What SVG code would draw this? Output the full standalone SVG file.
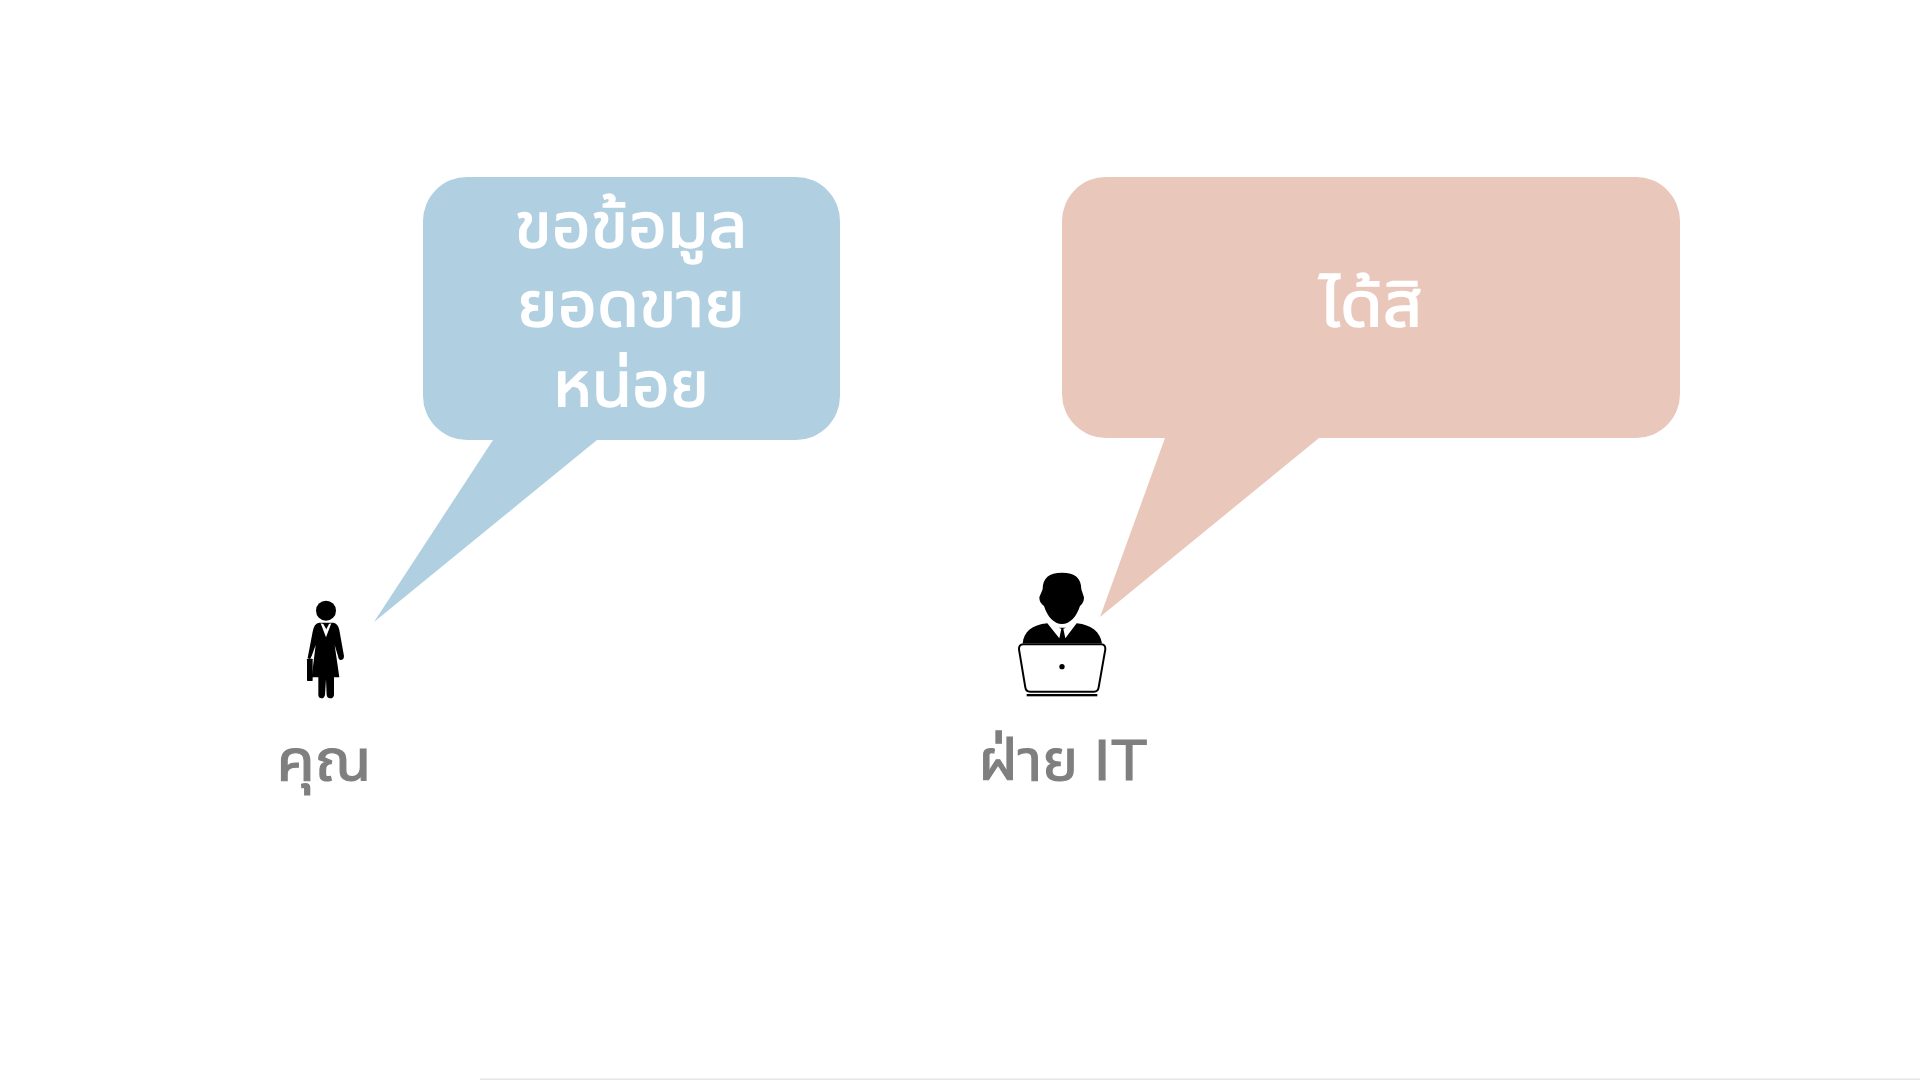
<svg xmlns="http://www.w3.org/2000/svg" width="1920" height="1080" viewBox="0 0 1920 1080">
<style>
text{font-family:"Noto Sans Thai","Liberation Sans","Noto Sans",sans-serif;text-anchor:middle}
.w{fill:#fff;stroke:#fff;stroke-width:1.4px;font-size:62px}
.g{fill:#7f7f7f;stroke:#7f7f7f;stroke-width:1.2px;font-size:58px}
.l{font-family:"Liberation Sans",sans-serif}
.k{fill:#000}
</style>
<rect width="1920" height="1080" fill="#fff"/>
<rect x="480" y="1078.5" width="1440" height="1.5" fill="#e6e6e6"/>
<g id="bubble-request">
<path fill="#b0d0e1" d="M467 177H796A44 44 0 0 1 840 221V396A44 44 0 0 1 796 440H597L374 622L493 440H467A44 44 0 0 1 423 396V221A44 44 0 0 1 467 177Z"/>
<text class="w" x="631" y="247" textLength="233" lengthAdjust="spacingAndGlyphs">ขอข้อมูล</text>
<text class="w" x="631" y="326" textLength="228" lengthAdjust="spacingAndGlyphs">ยอดขาย</text>
<text class="w" x="631" y="406" textLength="156" lengthAdjust="spacingAndGlyphs">หน่อย</text>
</g>
<g id="bubble-reply">
<path fill="#e9c7bb" d="M1106 177H1636A44 44 0 0 1 1680 221V394A44 44 0 0 1 1636 438H1319L1100 617L1165 438H1106A44 44 0 0 1 1062 394V221A44 44 0 0 1 1106 177Z"/>
<text class="w" x="1371" y="326" textLength="103" lengthAdjust="spacingAndGlyphs">ได้สิ</text>
</g>
<g id="person-you">
<g transform="translate(270 590) scale(.3333)">
<circle class="k" cx="168" cy="62" r="30"/>
<path class="k" d="M148 98H190Q204 100 208 120L222 198Q222 210 212 210Q206 210 204 198L194 165L208 262H192V315Q190 326 180 325Q172 325 170 315L168 268L165 315Q162 326 154 325Q146 325 145 315V262H125L137 165L125 198L120 208L113 204L128 125Q132 100 148 98Z"/>
<rect class="k" x="111" y="206" width="17" height="67" rx="2"/>
<path fill="#fff" d="M152 100L168 142L184 100L177 102L169 118L160 102Z"/>
</g>
<text class="g" x="324" y="780" textLength="95" lengthAdjust="spacingAndGlyphs">คุณ</text>
</g>
<g id="person-it">
<g transform="translate(960 560) scale(.3333)">
<path class="k" d="M306 38C345 38 364 54 364 88L372 112Q372 130 360 138C350 170 330 192 306 192C282 192 262 170 252 138Q238 130 238 112L248 88C248 54 267 38 306 38Z"/>
<path class="k" d="M188 250C192 215 215 195 262 190L298 235L304 206L296 203H318L310 206L316 235L350 190C395 195 420 215 426 250Z"/>
<path fill="#fff" stroke="#000" stroke-width="6" stroke-linejoin="round" d="M190 253H424Q437 253 436 268L416 382Q414 395 402 395H210Q198 395 196 382L177 268Q176 253 190 253Z"/>
<circle class="k" cx="306" cy="320" r="8"/>
<rect class="k" x="200" y="402" width="212" height="7"/>
</g>
<text class="g" x="1063" y="780" textLength="169" lengthAdjust="spacingAndGlyphs">ฝ่าย <tspan class="l">IT</tspan></text>
</g>
</svg>
